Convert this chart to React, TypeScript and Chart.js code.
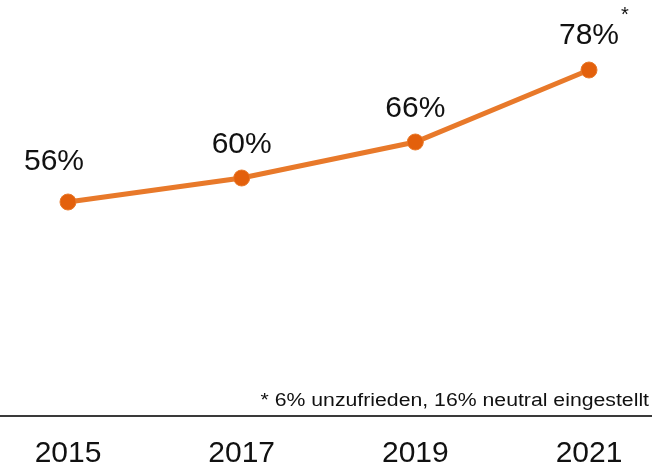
import React, { useEffect, useRef } from "react";
import { Chart, registerables } from "chart.js";

Chart.register(...registerables);

const years = ["2015", "2017", "2019", "2021"];
const shares = [56, 60, 66, 78];
const labelTexts = ["56%", "60%", "66%", "78%"];
const footnote = "* 6% unzufrieden, 16% neutral eingestellt";

const FONT = "'Liberation Sans', Arial, sans-serif";
const LINE_COLOR = "#E8792A";
const POINT_COLOR = "#E3600C";

const labelOffsets = [
  { dx: -14, dy: -32 },
  { dx: 0, dy: -25 },
  { dx: 0, dy: -25 },
  { dx: 0, dy: -26 },
];

const decorPlugin = {
  id: "decor",
  afterDraw(chart: any) {
    const ctx = chart.ctx;
    const area = chart.chartArea;
    ctx.save();
    // full-width baseline
    ctx.strokeStyle = "#3a3a3a";
    ctx.lineWidth = 2;
    ctx.beginPath();
    ctx.moveTo(0, area.bottom);
    ctx.lineTo(chart.width, area.bottom);
    ctx.stroke();

    // value labels
    const meta = chart.getDatasetMeta(0);
    ctx.fillStyle = "#111";
    ctx.font = `30px ${FONT}`;
    ctx.textAlign = "center";
    ctx.textBaseline = "alphabetic";
    meta.data.forEach((pt: any, i: number) => {
      const o = labelOffsets[i];
      ctx.fillText(labelTexts[i], pt.x + o.dx, pt.y + o.dy);
    });
    // asterisk after last label
    const last = meta.data[meta.data.length - 1];
    const lo = labelOffsets[labelOffsets.length - 1];
    const w = ctx.measureText(labelTexts[labelTexts.length - 1]).width;
    ctx.font = `20px ${FONT}`;
    ctx.textAlign = "left";
    ctx.fillText("*", last.x + lo.dx + w / 2 + 2, 21);

    // footnote (slightly wide lettering)
    ctx.font = `18px ${FONT}`;
    ctx.textAlign = "right";
    ctx.translate(chart.width - 3, 406);
    ctx.scale(1.18, 1);
    ctx.fillText(footnote, 0, 0);
    ctx.restore();
  },
};

export default function App() {
  const ref = useRef<HTMLCanvasElement | null>(null);
  useEffect(() => {
    if (!ref.current) return;
    const chart = new Chart(ref.current, {
      type: "line",
      data: {
        labels: years,
        datasets: [
          {
            data: shares,
            borderColor: LINE_COLOR,
            borderWidth: 5,
            pointRadius: 8,
            pointBackgroundColor: POINT_COLOR,
            pointBorderColor: LINE_COLOR,
            pointBorderWidth: 1,
            tension: 0,
          },
        ],
      },
      options: {
        responsive: false,
        animation: false,
        layout: { autoPadding: false, padding: { left: 68, right: 63, top: 0, bottom: 0 } },
        plugins: { legend: { display: false }, tooltip: { enabled: false } },
        scales: {
          x: {
            offset: false,
            grid: { display: false, drawTicks: false },
            border: { display: false },
            afterFit: (scale: any) => {
              scale.height = 53;
            },
            ticks: {
              padding: 23,
              color: "#111",
              font: { family: FONT, size: 30, lineHeight: 1 },
              maxRotation: 0,
            },
          },
          y: {
            display: false,
            min: 20.33,
            max: 89.67,
          },
        },
      },
      plugins: [decorPlugin],
    });
    return () => chart.destroy();
  }, []);
  return (
    <div style={{ position: "fixed", left: 0, top: 0, width: 652, height: 469, background: "#fff" }}>
      <canvas ref={ref} width={652} height={469} />
    </div>
  );
}
